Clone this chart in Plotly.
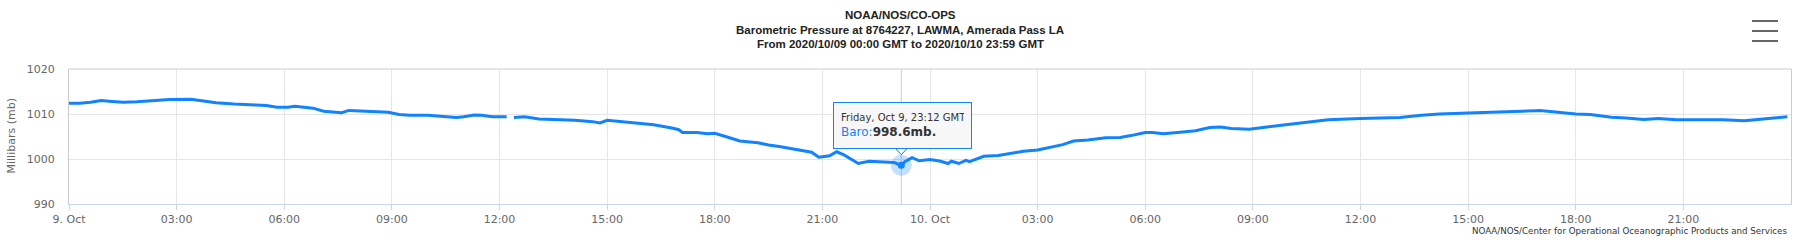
import plotly.graph_objects as go

# ---------------- data ----------------
times = [
    "2020-10-09 00:00", "2020-10-09 00:18", "2020-10-09 00:36", "2020-10-09 00:54",
    "2020-10-09 01:12", "2020-10-09 01:30", "2020-10-09 01:54", "2020-10-09 02:18",
    "2020-10-09 02:48", "2020-10-09 03:24", "2020-10-09 03:42", "2020-10-09 04:06",
    "2020-10-09 04:36", "2020-10-09 05:06", "2020-10-09 05:30", "2020-10-09 05:48",
    "2020-10-09 06:06", "2020-10-09 06:18", "2020-10-09 06:48", "2020-10-09 07:06",
    "2020-10-09 07:24", "2020-10-09 07:36", "2020-10-09 07:48", "2020-10-09 08:12",
    "2020-10-09 08:36", "2020-10-09 08:54", "2020-10-09 09:12", "2020-10-09 09:30",
    "2020-10-09 10:00", "2020-10-09 10:24", "2020-10-09 10:48", "2020-10-09 11:00",
    "2020-10-09 11:18", "2020-10-09 11:30", "2020-10-09 11:48", "2020-10-09 12:12",
    "2020-10-09 12:18", "2020-10-09 12:24", "2020-10-09 12:42", "2020-10-09 13:06",
    "2020-10-09 13:36", "2020-10-09 14:06", "2020-10-09 14:36", "2020-10-09 14:48",
    "2020-10-09 15:00", "2020-10-09 15:24", "2020-10-09 15:48", "2020-10-09 16:18",
    "2020-10-09 16:48", "2020-10-09 17:00", "2020-10-09 17:06", "2020-10-09 17:30",
    "2020-10-09 17:48", "2020-10-09 18:00", "2020-10-09 18:18", "2020-10-09 18:42",
    "2020-10-09 19:12", "2020-10-09 19:30", "2020-10-09 19:48", "2020-10-09 20:18",
    "2020-10-09 20:42", "2020-10-09 20:54", "2020-10-09 21:12", "2020-10-09 21:24",
    "2020-10-09 21:36", "2020-10-09 21:54", "2020-10-09 22:00", "2020-10-09 22:18",
    "2020-10-09 22:36", "2020-10-09 23:00", "2020-10-09 23:12", "2020-10-09 23:18",
    "2020-10-09 23:30", "2020-10-09 23:42",
    "2020-10-10 00:00", "2020-10-10 00:18", "2020-10-10 00:30", "2020-10-10 00:36",
    "2020-10-10 00:48", "2020-10-10 01:00", "2020-10-10 01:06", "2020-10-10 01:30",
    "2020-10-10 01:54", "2020-10-10 02:12", "2020-10-10 02:36", "2020-10-10 03:00",
    "2020-10-10 03:24", "2020-10-10 03:42", "2020-10-10 04:00", "2020-10-10 04:24",
    "2020-10-10 04:54", "2020-10-10 05:18", "2020-10-10 05:36", "2020-10-10 06:00",
    "2020-10-10 06:12", "2020-10-10 06:30", "2020-10-10 06:54", "2020-10-10 07:24",
    "2020-10-10 07:48", "2020-10-10 08:06", "2020-10-10 08:24", "2020-10-10 08:54",
    "2020-10-10 09:30", "2020-10-10 10:30", "2020-10-10 11:06", "2020-10-10 12:00",
    "2020-10-10 12:36", "2020-10-10 13:06", "2020-10-10 13:42", "2020-10-10 14:12",
    "2020-10-10 15:00", "2020-10-10 15:30", "2020-10-10 16:12", "2020-10-10 16:30",
    "2020-10-10 17:00", "2020-10-10 17:24", "2020-10-10 18:00", "2020-10-10 18:24",
    "2020-10-10 19:00", "2020-10-10 19:24", "2020-10-10 19:54", "2020-10-10 20:18",
    "2020-10-10 20:48", "2020-10-10 21:24", "2020-10-10 22:06", "2020-10-10 22:42",
    "2020-10-10 23:18", "2020-10-10 23:54",
]
baro = [
    1012.4, 1012.4, 1012.6, 1013.0,
    1012.8, 1012.6, 1012.7, 1012.9,
    1013.2, 1013.3, 1013.0, 1012.5,
    1012.2, 1012.1, 1011.9, 1011.5,
    1011.5, 1011.7, 1011.3, 1010.6,
    1010.5, 1010.3, 1010.8, 1010.7,
    1010.5, 1010.4, 1009.9, 1009.7,
    1009.7, 1009.5, 1009.2, 1009.4,
    1009.8, 1009.7, 1009.4, 1009.4,
    None, 1009.2, 1009.4, 1008.9,
    1008.8, 1008.6, 1008.3, 1008.0,
    1008.6, 1008.3, 1008.0, 1007.6,
    1006.9, 1006.5, 1005.9, 1005.9,
    1005.6, 1005.7, 1005.0, 1004.0,
    1003.6, 1003.1, 1002.8, 1002.0,
    1001.5, 1000.4, 1000.7, 1001.6,
    1000.9, 999.5, 999.0, 999.5,
    999.4, 999.2, 998.6, 999.4,
    1000.3, 999.6,
    999.9, 999.5, 999.0, 999.5,
    999.0, 999.7, 999.4, 1000.6,
    1000.8, 1001.2, 1001.7, 1002.0,
    1002.7, 1003.2, 1004.0, 1004.2,
    1004.7, 1004.8, 1005.2, 1005.9,
    1005.9, 1005.6, 1005.9, 1006.3,
    1007.0, 1007.1, 1006.8, 1006.6,
    1007.2, 1008.1, 1008.7, 1009.0,
    1009.2, 1009.2, 1009.7, 1010.0,
    1010.2, 1010.3, 1010.4, 1010.6,
    1010.8, 1010.5, 1010.0, 1009.9,
    1009.3, 1009.1, 1008.8, 1009.0,
    1008.7, 1008.7, 1008.7, 1008.5,
    1008.9, 1009.4,
]

x_tick_values = [
    "2020-10-09 00:00", "2020-10-09 03:00", "2020-10-09 06:00", "2020-10-09 09:00",
    "2020-10-09 12:00", "2020-10-09 15:00", "2020-10-09 18:00", "2020-10-09 21:00",
    "2020-10-10 00:00", "2020-10-10 03:00", "2020-10-10 06:00", "2020-10-10 09:00",
    "2020-10-10 12:00", "2020-10-10 15:00", "2020-10-10 18:00", "2020-10-10 21:00",
]
x_tick_labels = [
    "9. Oct", "03:00", "06:00", "09:00", "12:00", "15:00", "18:00", "21:00",
    "10. Oct", "03:00", "06:00", "09:00", "12:00", "15:00", "18:00", "21:00",
]
y_tick_values = [990, 1000, 1010, 1020]

x_range = ["2020-10-09 00:00", "2020-10-11 00:00"]
y_range = [990, 1020]

hover_time = "2020-10-09 23:12"
hover_value = 998.6
hover_header = "Friday, Oct 9, 23:12 GMT"
series_name = "Baro"

title_lines = [
    "NOAA/NOS/CO-OPS",
    "Barometric Pressure at 8764227, LAWMA, Amerada Pass LA",
    "From 2020/10/09 00:00 GMT to 2020/10/10 23:59 GMT",
]
y_title = "Millibars (mb)"
credits = "NOAA/NOS/Center for Operational Oceanographic Products and Services"

# ---------------- style ----------------
W, H = 1800, 240
PL, PR, PT, PB = 69, 1791, 69, 204
BLUE = "#1183ff"
TICK_FONT = dict(family="DejaVu Sans", size=11, color="#666666")


def fx(px):
    return (px - PL) / (PR - PL)


def fy(py):
    return (PB - py) / (PB - PT)


fig = go.Figure()

fig.add_trace(go.Scatter(
    x=times, y=baro, mode="lines", connectgaps=False,
    line=dict(color=BLUE, width=3), hoverinfo="skip", showlegend=False,
))
# hover halo + marker
fig.add_trace(go.Scatter(
    x=[hover_time], y=[hover_value], mode="markers",
    marker=dict(size=21, color="rgba(17,131,255,0.25)", line=dict(width=0)),
    hoverinfo="skip", showlegend=False,
))
fig.add_trace(go.Scatter(
    x=[hover_time], y=[hover_value], mode="markers",
    marker=dict(size=7, color=BLUE, line=dict(width=0)),
    hoverinfo="skip", showlegend=False,
))

shapes = []
# top border
shapes.append(dict(type="line", xref="paper", yref="paper", x0=0, x1=1, y0=1, y1=1,
                   line=dict(color="#cccccc", width=1), layer="above"))
# crosshair
shapes.append(dict(type="line", xref="x", yref="paper", x0=hover_time, x1=hover_time,
                   y0=0, y1=1, line=dict(color="#cccccc", width=1), layer="below"))
# tooltip pointer
shapes.append(dict(type="path", xref="x", yref="y", xsizemode="pixel", ysizemode="pixel",
                   xanchor=hover_time, yanchor=hover_value,
                   path="M -6,17 L 0,10.5 L 6,17 Z",
                   fillcolor="#f7f7f7", line=dict(color=BLUE, width=1), layer="above"))
# hamburger menu
for py in (21, 31, 41):
    shapes.append(dict(type="line", xref="paper", yref="paper",
                       x0=fx(1752), x1=fx(1778), y0=fy(py), y1=fy(py),
                       line=dict(color="#666666", width=2)))

annotations = []
for i, (txt, py) in enumerate(zip(title_lines, (15, 30, 44.5))):
    annotations.append(dict(
        text="<b>%s</b>" % txt, xref="paper", yref="paper", x=fx(900), y=fy(py),
        xanchor="center", yanchor="middle", showarrow=False,
        font=dict(family="Liberation Sans", size=11.5, color="#222222"),
    ))
annotations.append(dict(
    text=y_title, xref="paper", yref="paper", x=fx(11), y=0.5, textangle=-90,
    xanchor="center", yanchor="middle", showarrow=False,
    font=dict(family="DejaVu Sans", size=11, color="#666666"),
))
annotations.append(dict(
    text=credits, xref="paper", yref="paper", x=fx(1789), y=fy(231),
    xanchor="right", yanchor="middle", showarrow=False,
    font=dict(family="DejaVu Sans", size=8.7, color="#333333"),
))
annotations.append(dict(
    text=("<span style='font-size:10px'>%s</span><br>"
          "<span style='color:%s'>%s:</span><b>%.1fmb.</b>") % (hover_header, BLUE, series_name, hover_value),
    x=hover_time, y=hover_value, xref="x", yref="y",
    showarrow=True, ax=1, ay=-40, arrowcolor="rgba(0,0,0,0)", arrowwidth=0.1,
    xanchor="center", yanchor="middle", align="left",
    width=123, height=31, borderpad=7,
    bgcolor="rgba(247,247,247,0.95)", bordercolor=BLUE, borderwidth=1,
    font=dict(family="DejaVu Sans", size=12, color="#333333"),
))

fig.update_layout(
    width=W, height=H,
    margin=dict(l=PL, r=W - PR, t=PT, b=H - PB, pad=0),
    paper_bgcolor="white", plot_bgcolor="white",
    showlegend=False,
    shapes=shapes, annotations=annotations,
    xaxis=dict(
        type="date", range=x_range, tickvals=x_tick_values, ticktext=x_tick_labels,
        showgrid=True, gridcolor="#e6e6e6", gridwidth=1,
        showline=True, linecolor="#ccd6eb", linewidth=1, mirror=False,
        ticks="outside", ticklen=5, tickcolor="#ccd6eb", tickwidth=1,
        tickfont=TICK_FONT, zeroline=False, fixedrange=True,
    ),
    yaxis=dict(
        range=y_range, tickvals=y_tick_values,
        showgrid=True, gridcolor="#e6e6e6", gridwidth=1,
        showline=True, linecolor="#cccccc", linewidth=1, mirror=True,
        ticks="", ticklabelstandoff=11, tickfont=TICK_FONT, zeroline=False,
        fixedrange=True,
    ),
)

fig.write_html("out.html", config={"displayModeBar": False})
